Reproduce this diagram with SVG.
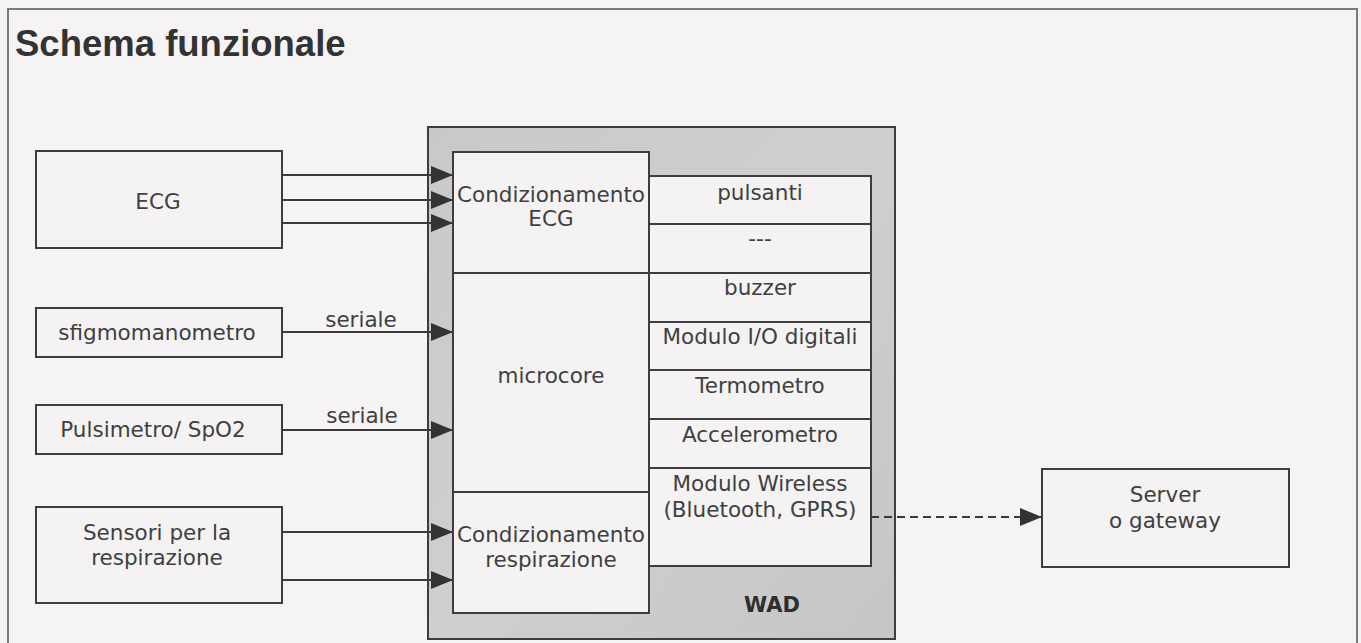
<svg xmlns="http://www.w3.org/2000/svg" width="1361" height="643" viewBox="0 0 1361 643">
  <style>
    .box { fill: #f4f2f2; stroke: #3d3d3d; stroke-width: 2; }
    .t { font-family: "DejaVu Sans", Verdana, sans-serif; font-size: 21.5px; fill: #404040; text-anchor: middle; }
    .c { stroke: #3a3a3a; stroke-width: 2; fill: none; }
    .d { stroke: #3a3a3a; stroke-width: 2; fill: none; stroke-dasharray: 8 5; }
  </style>
  <defs>
    <marker id="arr" markerWidth="22" markerHeight="20" refX="22" refY="10" orient="auto" markerUnits="userSpaceOnUse">
      <path d="M0,1 L22,10 L0,19 Z" fill="#333333"/>
    </marker>
    <linearGradient id="wadg" x1="0" y1="0" x2="1" y2="1">
      <stop offset="0" stop-color="#c9c9c9"/>
      <stop offset="0.5" stop-color="#cfcfcf"/>
      <stop offset="1" stop-color="#c6c6c6"/>
    </linearGradient>
  </defs>
  <rect x="0" y="0" width="1361" height="643" fill="#f5f3f3"/>
  <path d="M8,643 L8,9 L1357,9 L1357,643" fill="none" stroke="#7a7a7a" stroke-width="2"/>
  <text x="15" y="56" font-family="'Liberation Sans', Arial, sans-serif" font-size="36.5" font-weight="bold" fill="#333333">Schema funzionale</text>

  <g id="wad">
    <rect x="428" y="127" width="467" height="512" fill="url(#wadg)" stroke="#3d3d3d" stroke-width="2"/>
    <text x="772" y="612" font-family="'DejaVu Sans', Verdana, sans-serif" font-size="21" font-weight="bold" fill="#2e2e2e" text-anchor="middle">WAD</text>
  </g>

  <g id="cond-ecg">
    <rect class="box" x="453" y="152" width="196" height="121"/>
    <text class="t" x="551" y="202">Condizionamento</text>
    <text class="t" x="551" y="226">ECG</text>
  </g>
  <g id="microcore">
    <rect class="box" x="453" y="273" width="196" height="219"/>
    <text class="t" x="551" y="383">microcore</text>
  </g>
  <g id="cond-resp">
    <rect class="box" x="453" y="492" width="196" height="121"/>
    <text class="t" x="551" y="542">Condizionamento</text>
    <text class="t" x="551" y="567">respirazione</text>
  </g>

  <g id="pulsanti">
    <rect class="box" x="649" y="176" width="222" height="48"/>
    <text class="t" x="760" y="200">pulsanti</text>
  </g>
  <g id="dots">
    <rect class="box" x="649" y="224" width="222" height="49"/>
    <text class="t" x="760" y="246">---</text>
  </g>
  <g id="buzzer">
    <rect class="box" x="649" y="273" width="222" height="49"/>
    <text class="t" x="760" y="295">buzzer</text>
  </g>
  <g id="modulo-io">
    <rect class="box" x="649" y="322" width="222" height="48"/>
    <text class="t" x="760" y="344">Modulo I/O digitali</text>
  </g>
  <g id="termometro">
    <rect class="box" x="649" y="370" width="222" height="49"/>
    <text class="t" x="760" y="393">Termometro</text>
  </g>
  <g id="accelerometro">
    <rect class="box" x="649" y="419" width="222" height="49"/>
    <text class="t" x="760" y="442">Accelerometro</text>
  </g>
  <g id="wireless">
    <rect class="box" x="649" y="468" width="222" height="98"/>
    <text class="t" x="760" y="491">Modulo Wireless</text>
    <text class="t" x="760" y="517">(Bluetooth, GPRS)</text>
  </g>

  <g id="ecg">
    <rect class="box" x="36" y="151" width="246" height="97"/>
    <text class="t" x="158" y="209">ECG</text>
  </g>
  <g id="sfigmo">
    <rect class="box" x="36" y="308" width="246" height="49"/>
    <text class="t" x="157" y="340">sfigmomanometro</text>
  </g>
  <g id="pulsimetro">
    <rect class="box" x="36" y="405" width="246" height="49"/>
    <text class="t" x="153" y="437">Pulsimetro/ SpO2</text>
  </g>
  <g id="sensori">
    <rect class="box" x="36" y="507" width="246" height="96"/>
    <text class="t" x="157" y="540">Sensori per la</text>
    <text class="t" x="157" y="565">respirazione</text>
  </g>
  <g id="server">
    <rect class="box" x="1042" y="469" width="247" height="98"/>
    <text class="t" x="1165" y="502">Server</text>
    <text class="t" x="1165" y="528">o gateway</text>
  </g>

  <g id="connectors">
    <line class="c" x1="282" y1="175" x2="453" y2="175" marker-end="url(#arr)"/>
    <line class="c" x1="282" y1="200" x2="453" y2="200" marker-end="url(#arr)"/>
    <line class="c" x1="282" y1="223" x2="453" y2="223" marker-end="url(#arr)"/>
    <line class="c" x1="282" y1="332" x2="453" y2="332" marker-end="url(#arr)"/>
    <line class="c" x1="282" y1="430" x2="453" y2="430" marker-end="url(#arr)"/>
    <line class="c" x1="282" y1="532" x2="453" y2="532" marker-end="url(#arr)"/>
    <line class="c" x1="282" y1="580" x2="453" y2="580" marker-end="url(#arr)"/>
    <line class="d" x1="871" y1="517" x2="1042" y2="517" marker-end="url(#arr)"/>
    <text class="t" x="361" y="327">seriale</text>
    <text class="t" x="362" y="423">seriale</text>
  </g>
</svg>
